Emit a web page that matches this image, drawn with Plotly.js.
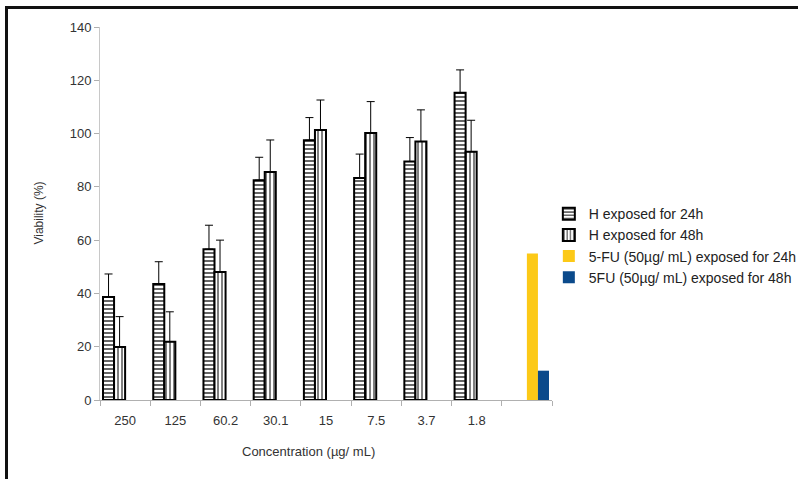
<!DOCTYPE html>
<html>
<head>
<meta charset="utf-8">
<script src="https://cdn.plot.ly/plotly-3.0.1.min.js"></script>
<style>
html,body{margin:0;padding:0;background:#fff;}
#chart{position:absolute;left:0;top:0;width:798px;height:479px;}
#frame{position:absolute;left:5px;top:6px;width:800px;height:480px;border-left:3px solid #111;border-top:3px solid #111;pointer-events:none;}
</style>
</head>
<body>
<div id="chart"></div>
<div id="frame"></div>
<script>
var categories = ["250", "125", "60.2", "30.1", "15", "7.5", "3.7", "1.8", " "];
var h24 = [38.7, 43.5, 56.6, 82.5, 97.5, 83.3, 89.5, 115.3];
var h24err = [8.6, 8.4, 9.0, 8.6, 8.5, 9.0, 9.0, 8.6];
var h48 = [19.9, 21.9, 48.0, 85.6, 101.3, 100.2, 97.0, 93.2];
var h48err = [11.4, 11.2, 12.0, 12.0, 11.3, 11.8, 11.9, 11.8];
var fu24 = [55];
var fu48 = [11];
var seriesNames = ["H exposed for 24h", "H exposed for 48h", "5-FU (50µg/ mL) exposed for 24h", "5FU (50µg/ mL) exposed for 48h"];
var xTitle = "Concentration (µg/ mL)";
var yTitle = "Viability (%)";

var cat8 = categories.slice(0, 8);
var lastCat = [categories[8]];
function zeros(a){ return a.map(function(){ return 0; }); }

var traces = [
  {
    type: "bar", name: seriesNames[0], x: cat8, y: h24,
    marker: {color: "#ffffff", line: {color: "#000000", width: 2},
             pattern: {shape: "-", fgcolor: "#000000", bgcolor: "#ffffff", size: 4, solidity: 0.3}},
    error_y: {type: "data", array: h24err, arrayminus: zeros(h24err), symmetric: false, color: "#000000", thickness: 1, width: 4}
  },
  {
    type: "bar", name: seriesNames[1], x: cat8, y: h48,
    marker: {color: "#ffffff", line: {color: "#000000", width: 2},
             pattern: {shape: "|", fgcolor: "#000000", bgcolor: "#ffffff", size: 4, solidity: 0.25}},
    error_y: {type: "data", array: h48err, arrayminus: zeros(h48err), symmetric: false, color: "#000000", thickness: 1, width: 4}
  },
  {
    type: "bar", name: seriesNames[2], x: lastCat, y: fu24,
    marker: {color: "#FCC917", line: {width: 0}}
  },
  {
    type: "bar", name: seriesNames[3], x: lastCat, y: fu48,
    marker: {color: "#0B4A8B", line: {width: 0}}
  }
];

var layout = {
  width: 798, height: 479,
  margin: {l: 100, r: 246, t: 27, b: 79, autoexpand: false},
  paper_bgcolor: "#ffffff", plot_bgcolor: "#ffffff",
  barmode: "group", bargap: 0.12, bargroupgap: 0,
  font: {family: "Liberation Sans, Arial, sans-serif", color: "#333333", size: 12},
  showlegend: true,
  legend: {x: 0.993, y: 0.414, xanchor: "left", yanchor: "middle", bgcolor: "rgba(0,0,0,0)",
           font: {size: 14, color: "#222"}, tracegroupgap: 0, itemwidth: 30},
  xaxis: {
    type: "category", categoryorder: "array", categoryarray: categories,
    automargin: false,
    showline: true, linecolor: "#b0b0b0", linewidth: 1,
    ticks: "outside", tickson: "boundaries", ticklen: 5, tickcolor: "#b0b0b0",
    ticklabelstandoff: 8,
    showgrid: false, zeroline: false,
    tickfont: {size: 13, color: "#333"}
  },
  yaxis: {
    range: [0, 140], dtick: 20, showgrid: false, zeroline: false,
    automargin: false,
    showline: true, linecolor: "#c8c8c8", linewidth: 1,
    ticks: "outside", ticklen: 5, tickcolor: "#b0b0b0",
    tickfont: {size: 13, color: "#333"}
  },
  annotations: [
    {text: xTitle, xref: "paper", yref: "paper", x: 0.462, y: -0.137, xanchor: "center", yanchor: "middle",
     showarrow: false, font: {size: 13, color: "#333"}},
    {text: yTitle, xref: "paper", yref: "paper", x: -0.137, y: 0.50, xanchor: "center", yanchor: "middle",
     textangle: -90, showarrow: false, font: {size: 12, color: "#333"}}
  ]
};

Plotly.newPlot("chart", traces, layout, {displayModeBar: false, staticPlot: true});
</script>
</body>
</html>
